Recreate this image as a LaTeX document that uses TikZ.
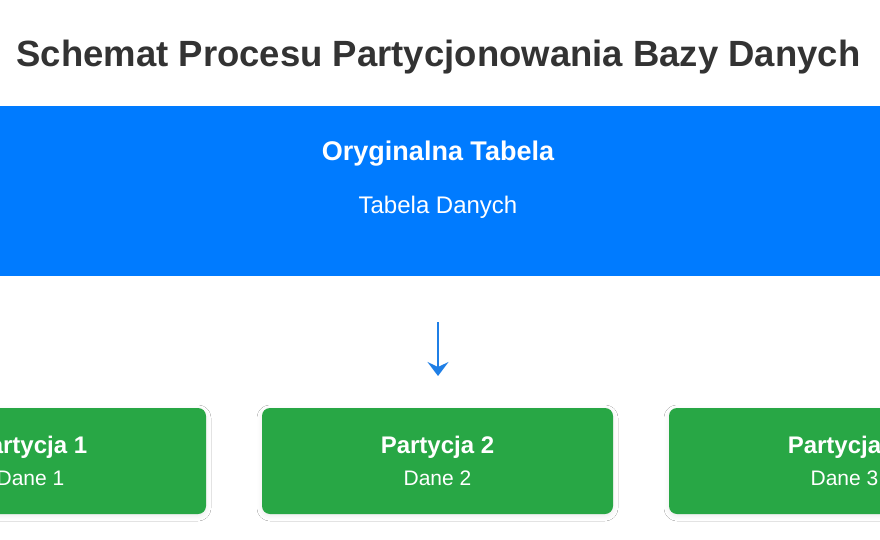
\documentclass[tikz,border=0pt]{standalone}
\usepackage{fontspec}
\setmainfont{Liberation Sans}
\usetikzlibrary{arrows.meta,shadows.blur}
\definecolor{bluebox}{HTML}{007BFF}
\definecolor{greenbox}{HTML}{28A745}
\definecolor{titlec}{HTML}{333333}
\definecolor{arrowc}{HTML}{1F7FE6}
\tikzset{
  titletxt/.style={anchor=base, text=titlec, font=\bfseries\fontsize{36.5}{40}\selectfont, inner sep=0},
  headtxt/.style={anchor=base, text=white, font=\bfseries\fontsize{27}{30}\selectfont, inner sep=0},
  subtxt/.style={anchor=base, text=white, font=\fontsize{24}{28}\selectfont, inner sep=0},
  parthead/.style={anchor=base, text=white, font=\bfseries\fontsize{24}{28}\selectfont, inner sep=0},
  partsub/.style={anchor=base, text=white, font=\fontsize{21}{24}\selectfont, inner sep=0},
  origbox/.style={fill=bluebox, minimum width=900, minimum height=170, inner sep=0, draw=none},
  partbox/.style={fill=greenbox, minimum width=351, minimum height=106, inner sep=0, draw=none, rounded corners=8,
    blur shadow={shadow xshift=0pt, shadow yshift=-2pt, shadow blur radius=5pt, shadow opacity=8}},
  flowarrow/.style={draw=arrowc, line width=2pt, -{Stealth[length=14pt, width=21pt, inset=5pt]}}
}
\begin{document}
\begin{tikzpicture}[x=1pt,y=-1pt]
\useasboundingbox (0,0) rectangle (880,540);
\clip (0,0) rectangle (880,540);
\fill[white] (0,0) rectangle (880,540);
\node[titletxt] (title) at (438.5,67) {Schemat Procesu Partycjonowania Bazy Danych};
\node[origbox] (orig) at (440,191) {};
\node[headtxt] (origh) at (438,161) {Oryginalna Tabela};
\node[subtxt] (origs) at (438,213) {Tabela Danych};
\node[partbox] (p1) at (30.5,461) {};
\node[partbox] (p2) at (437.5,461) {};
\node[partbox] (p3) at (844.5,461) {};
\node[parthead] (p1h) at (30.5,453) {Partycja 1};
\node[partsub] (p1s) at (30.5,485) {Dane 1};
\node[parthead] (p2h) at (437.5,453) {Partycja 2};
\node[partsub] (p2s) at (437.5,485) {Dane 2};
\node[parthead] (p3h) at (844.5,453) {Partycja 3};
\node[partsub] (p3s) at (844.5,485) {Dane 3};
\coordinate (a1) at (438,322);
\coordinate (a2) at (438,376);
\draw[flowarrow] (a1) -- (a2);
\end{tikzpicture}
\end{document}
